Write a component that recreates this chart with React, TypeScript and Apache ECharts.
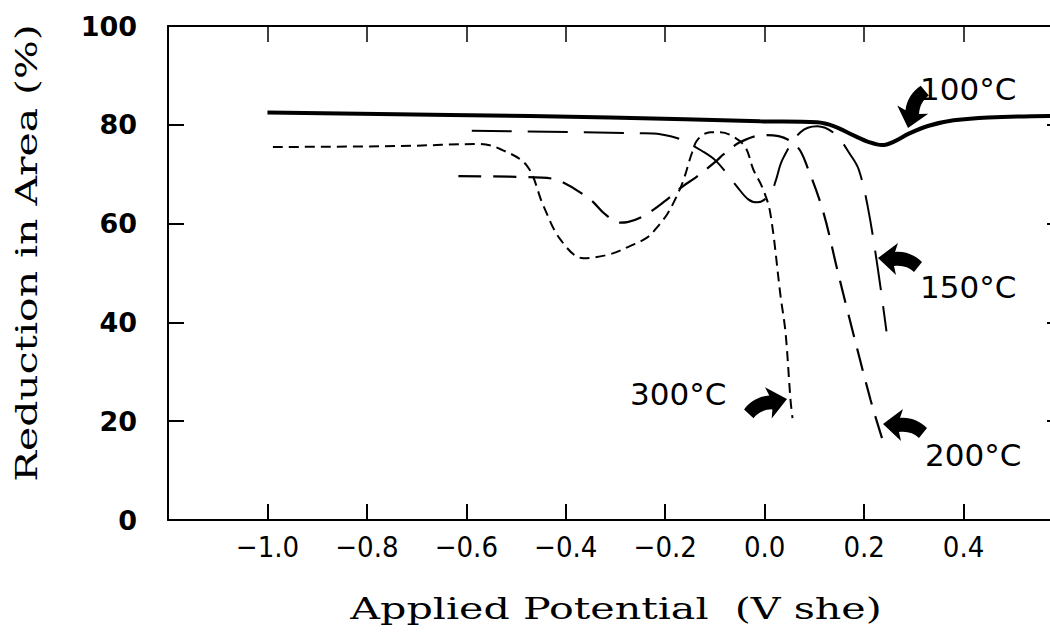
import React, { useEffect, useRef } from 'react';
import * as echarts from 'echarts';

// ---- data (Applied potential in V she, Reduction in Area in %) ----
const pot100 = [-1.0, -0.633, -0.311, -0.009, 0.105, 0.14, 0.18, 0.21, 0.236, 0.26, 0.29, 0.33, 0.38, 0.45, 0.6];
const ra100 = [82.5, 82.0, 81.5, 80.7, 80.5, 79.7, 77.8, 76.5, 75.9, 76.6, 78.2, 79.8, 80.9, 81.5, 81.8];

const pot150 = [-0.589, -0.25, -0.21, -0.17, -0.126, -0.097, -0.055, -0.033, -0.015, 0.011, 0.022, 0.036, 0.072, 0.106, 0.142, 0.172, 0.189, 0.207, 0.227, 0.245];
const ra150 = [78.8, 78.3, 78.1, 77.1, 74.7, 72.6, 67.4, 64.9, 64.3, 65.9, 68.6, 73.0, 78.5, 79.7, 78.1, 74.0, 71.0, 63.6, 51.3, 38.2];

const pot200 = [-0.616, -0.448, -0.411, -0.351, -0.321, -0.291, -0.276, -0.244, -0.2, -0.164, -0.139, -0.097, -0.083, -0.049, -0.003, 0.028, 0.066, 0.086, 0.118, 0.146, 0.166, 0.213, 0.239];
const ra200 = [69.6, 69.3, 68.6, 64.9, 61.9, 60.2, 60.3, 61.5, 64.6, 67.6, 69.3, 72.7, 74.0, 76.5, 77.9, 77.7, 75.5, 71.4, 62.3, 50.7, 42.6, 24.3, 15.6];

const pot300 = [-0.989, -0.733, -0.573, -0.532, -0.478, -0.445, -0.411, -0.365, -0.311, -0.27, -0.236, -0.216, -0.196, -0.18, -0.164, -0.146, -0.134, -0.109, -0.089, -0.065, -0.039, -0.023, -0.005, 0.011, 0.032, 0.042, 0.052, 0.056];
const ra300 = [75.5, 75.7, 76.1, 75.1, 71.7, 63.6, 56.8, 53.0, 53.8, 55.5, 57.2, 59.3, 61.9, 64.9, 68.6, 74.4, 77.1, 78.5, 78.5, 77.7, 75.5, 71.0, 67.4, 62.3, 45.3, 37.9, 24.3, 20.6];

const seriesLabels = ['100°C', '150°C', '200°C', '300°C'];
const xTitle = 'Applied Potential  (V she)';
const yTitle = 'Reduction in Area (%)';

const ARROW_D = 'M0,0 L-20,-15 L-17,-6 C-27,-7 -37,-3 -44,4 L-36,14 C-31,9 -24,7 -16,8 L-18,17 Z';
let arrowRegistered = false;
function ensureArrow() {
  if (arrowRegistered) return;
  echarts.graphic.registerShape('curvedArrow', echarts.graphic.extendPath(ARROW_D, {}) as any);
  arrowRegistered = true;
}

const pairs = (xs: number[], ys: number[]) => xs.map((x, i) => [x, ys[i]]);

function fmtX(v: number): string {
  if (Math.abs(v + 1.2) < 1e-6 || Math.abs(v - 0.6) < 1e-6) return '';
  if (Math.abs(v) < 1e-9) return '0.0';
  return (v < 0 ? '\u2212' : '') + Math.abs(v).toFixed(1);
}

export default function App() {
  const ref = useRef<HTMLDivElement>(null);
  useEffect(() => {
    if (!ref.current) return;
    ensureArrow();
    const chart = echarts.init(ref.current, undefined, { renderer: 'svg' });
    const black = '#000';
    const lineBase = { type: 'line', showSymbol: false, symbol: 'none', smooth: 0.35, clip: true };
    const annot = (text: string, x: number, y: number) => ({
      type: 'text', x, y,
      style: { text, fontSize: 31, fontFamily: 'DejaVu Sans', fill: black, align: 'left', textAlign: 'left', verticalAlign: 'middle', textVerticalAlign: 'middle' },
    });
    chart.setOption({
      animation: false,
      backgroundColor: '#fff',
      grid: { left: 168, top: 26, right: -13, bottom: 113, outerBoundsMode: 'none', show: false },
      xAxis: [
        {
          type: 'value', min: -1.2, max: 0.6, interval: 0.2, position: 'bottom',
          axisLine: { show: true, onZero: false, lineStyle: { color: black, width: 2 } },
          axisTick: { show: true, inside: true, length: 16, lineStyle: { color: black, width: 2 } },
          axisLabel: { fontFamily: "'DejaVu Sans Condensed', 'Liberation Sans', sans-serif", color: black, fontSize: 29, margin: 12, formatter: fmtX },
          splitLine: { show: false },
        },
        {
          type: 'value', min: -1.2, max: 0.6, interval: 0.2, position: 'top',
          axisLine: { show: true, onZero: false, lineStyle: { color: black, width: 2 } },
          axisTick: { show: true, inside: true, length: 16, lineStyle: { color: black, width: 1.5 } },
          axisLabel: { show: false },
          splitLine: { show: false },
        },
      ],
      yAxis: [
        {
          type: 'value', min: 0, max: 100, interval: 20, position: 'left',
          axisLine: { show: true, onZero: false, lineStyle: { color: black, width: 2 } },
          axisTick: { show: true, inside: true, length: 16, lineStyle: { color: black, width: 2 } },
          axisLabel: { fontFamily: 'DejaVu Sans', color: black, fontSize: 27, fontWeight: 'bold', margin: 31 },
          splitLine: { show: false },
        },
        {
          type: 'value', min: 0, max: 100, interval: 20, position: 'right',
          axisLine: { show: true, onZero: false, lineStyle: { color: black, width: 2 } },
          axisTick: { show: true, inside: true, length: 16, lineStyle: { color: black, width: 2 } },
          axisLabel: { show: false },
          splitLine: { show: false },
        },
      ],
      series: [
        { ...lineBase, name: seriesLabels[0], data: pairs(pot100, ra100), lineStyle: { color: black, width: 4, type: 'solid' } },
        { ...lineBase, name: seriesLabels[1], data: pairs(pot150, ra150), lineStyle: { color: black, width: 2, type: [40, 16] } },
        { ...lineBase, name: seriesLabels[2], data: pairs(pot200, ra200), lineStyle: { color: black, width: 2.2, type: [23, 12] } },
        { ...lineBase, name: seriesLabels[3], data: pairs(pot300, ra300), lineStyle: { color: black, width: 2, type: [10, 6] } },
      ],
      graphic: [
        {
          type: 'text', x: 616, y: 609, scaleX: 1.42,
          style: { text: xTitle, fontSize: 29, fontFamily: 'DejaVu Serif', fill: black, align: 'center', textAlign: 'center', verticalAlign: 'middle', textVerticalAlign: 'middle' },
        },
        {
          type: 'text', x: 27, y: 253, rotation: Math.PI / 2, scaleX: 1.41,
          style: { text: yTitle, fontSize: 29, fontFamily: 'DejaVu Serif', fill: black, align: 'center', textAlign: 'center', verticalAlign: 'middle', textVerticalAlign: 'middle' },
        },
        annot(seriesLabels[0], 920, 89),
        annot(seriesLabels[1], 920, 287),
        annot(seriesLabels[2], 925, 455),
        annot(seriesLabels[3], 630, 394),
        { type: 'curvedArrow', x: 908, y: 128, scaleY: -1, rotation: -(Math.PI / 2 + 0.2), style: { fill: black } },
        { type: 'curvedArrow', x: 878, y: 258, scaleX: -1, style: { fill: black } },
        { type: 'curvedArrow', x: 883, y: 424, scaleX: -1, style: { fill: black } },
        { type: 'curvedArrow', x: 787, y: 399, rotation: 0.15, style: { fill: black } },
      ],
    });
    return () => chart.dispose();
  }, []);
  return <div ref={ref} style={{ position: 'fixed', left: 0, top: 0, width: 1050, height: 633, background: '#fff' }} />;
}
